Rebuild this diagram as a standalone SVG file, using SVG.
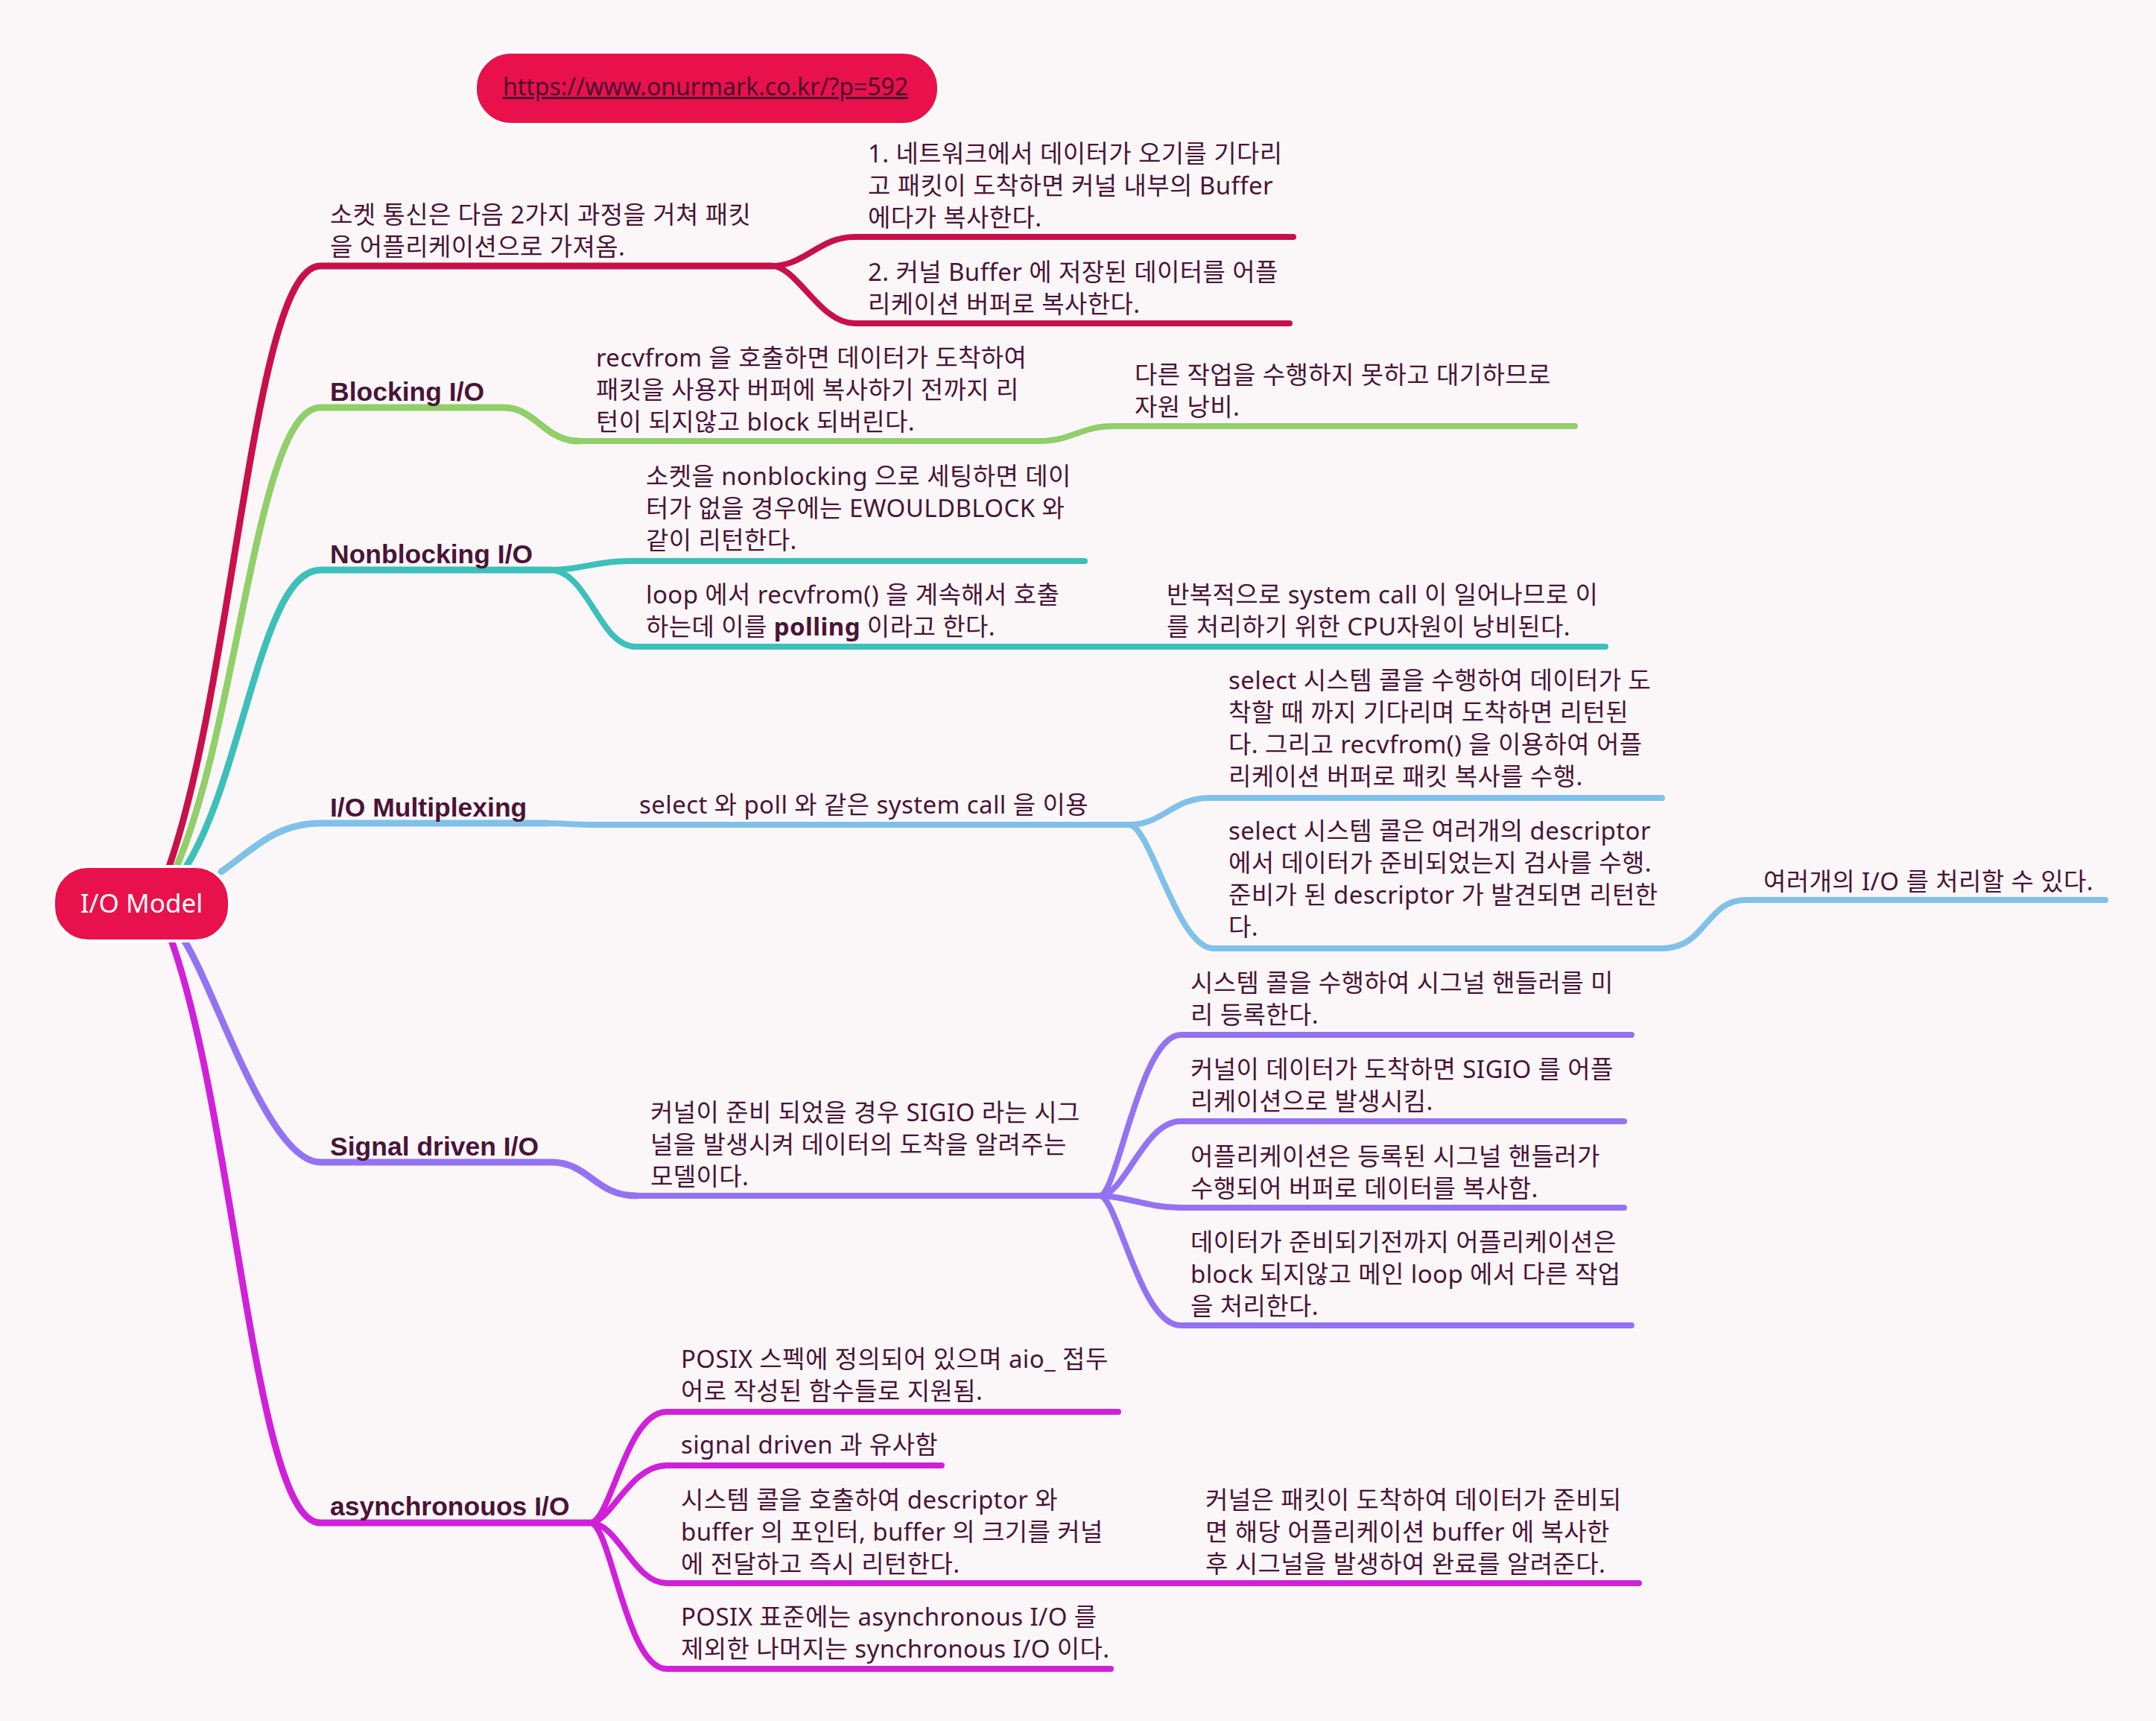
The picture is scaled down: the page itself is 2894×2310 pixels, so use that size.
<svg xmlns="http://www.w3.org/2000/svg" width="2894" height="2310" viewBox="0 0 2894 2310">
<defs>
<style>
.bg{fill:#fbf7f9}
.c{fill:none;stroke-linecap:round;stroke-linejoin:round}
.w1{stroke-width:9}
.w2{stroke-width:8}
.red{stroke:#c8104b}
.grn{stroke:#90cf69}
.teal{stroke:#3dbfba}
.blue{stroke:#80c1e9}
.pur{stroke:#9373f2}
.mag{stroke:#d020d9}
.t{font-family:"Noto Sans","Noto Sans CJK KR",sans-serif;font-size:33px;letter-spacing:0.4px;fill:#4a1436}
.b{font-family:"Liberation Sans",Arial,sans-serif;font-size:35.5px;font-weight:700;fill:#4a1436}
.pill{fill:#e8114b;stroke:#ffffff;stroke-width:4}
</style>
</defs>
<rect class="bg" x="0" y="0" width="2894" height="2310"/>

<g id="connectors">
  <!-- red -->
  <path class="c w1 red" d="M 227 1163 C 315 911, 340 357, 430 357 L 1036 357"/>
  <path class="c w2 red" d="M 1036 357 C 1080 357, 1100 318, 1147 318 L 1736 318"/>
  <path class="c w2 red" d="M 1036 357 C 1070 357, 1100 434, 1147 434 L 1731 434"/>
  <!-- green -->
  <path class="c w1 grn" d="M 237 1163 C 320 972, 345 547, 430 547 L 675 547 C 720 547, 730 592, 777 592"/>
  <path class="c w2 grn" d="M 777 592 L 1394 592"/>
  <path class="c w2 grn" d="M 1394 592 C 1440 592, 1450 572, 1494 572 L 2114 572"/>
  <!-- teal -->
  <path class="c w1 teal" d="M 250 1163 C 327 1040, 351 765, 430 765 L 740 765"/>
  <path class="c w2 teal" d="M 740 765 C 780 765, 800 753, 843 753 L 1456 753"/>
  <path class="c w2 teal" d="M 740 765 C 790 768, 805 868, 853 868 L 1432 868"/>
  <path class="c w2 teal" d="M 1432 868 L 2155 868"/>
  <!-- blue -->
  <path class="c w1 blue" d="M 297 1170 C 340 1140, 370 1105, 430 1105 L 735 1105"/>
  <path class="c w2 blue" d="M 735 1105 C 760 1105, 770 1107, 800 1107 L 1516 1107"/>
  <path class="c w2 blue" d="M 1516 1107 C 1560 1107, 1575 1071, 1623 1071 L 2231 1071"/>
  <path class="c w2 blue" d="M 1516 1107 C 1545 1110, 1580 1273, 1629 1273 L 2231 1273"/>
  <path class="c w2 blue" d="M 2231 1273 C 2290 1273, 2290 1208, 2343 1208 L 2826 1208"/>
  <!-- purple -->
  <path class="c w1 pur" d="M 247 1262 C 290 1330, 360 1560, 430 1560 L 740 1560 C 790 1560, 800 1605, 853 1605"/>
  <path class="c w2 pur" d="M 853 1605 L 1476 1605"/>
  <path class="c w2 pur" d="M 1476 1605 C 1500 1605, 1530 1389, 1585 1389 L 2190 1389"/>
  <path class="c w2 pur" d="M 1476 1605 C 1510 1605, 1535 1505, 1585 1505 L 2180 1505"/>
  <path class="c w2 pur" d="M 1476 1605 C 1510 1605, 1540 1621, 1585 1621 L 2180 1621"/>
  <path class="c w2 pur" d="M 1476 1605 C 1500 1605, 1530 1779, 1585 1779 L 2190 1779"/>
  <!-- magenta -->
  <path class="c w1 mag" d="M 230 1262 C 316 1504, 342 2044, 430 2044 L 792 2044"/>
  <path class="c w2 mag" d="M 792 2044 C 820 2044, 840 1895, 895 1895 L 1501 1895"/>
  <path class="c w2 mag" d="M 792 2044 C 820 2044, 845 1967, 895 1967 L 1264 1967"/>
  <path class="c w2 mag" d="M 792 2044 C 830 2044, 850 2125, 895 2125 L 1486 2125"/>
  <path class="c w2 mag" d="M 1486 2125 L 2200 2125"/>
  <path class="c w2 mag" d="M 792 2044 C 820 2044, 840 2240, 895 2240 L 1491 2240"/>
</g>

<g id="root">
  <rect class="pill" x="72" y="1163" width="236" height="100" rx="46"/>
  <text x="190" y="1225" text-anchor="middle" font-family="'Noto Sans',sans-serif" font-size="35" fill="#ffffff">I/O Model</text>
</g>

<g id="url">
  <rect class="pill" x="638" y="70" width="622" height="97" rx="48"/>
  <text x="947" y="128" text-anchor="middle" font-family="'Noto Sans',sans-serif" font-size="32" fill="#4a0d2e" text-decoration="underline">https://www.onurmark.co.kr/?p=592</text>
</g>

<g id="n-socket">
  <text class="t"><tspan x="443" y="300">소켓 통신은 다음 2가지 과정을 거쳐 패킷</tspan><tspan x="443" y="343">을 어플리케이션으로 가져옴.</tspan></text>
</g>
<g id="n-socket-1">
  <text class="t"><tspan x="1165" y="218">1. 네트워크에서 데이터가 오기를 기다리</tspan><tspan x="1165" y="261">고 패킷이 도착하면 커널 내부의 Buffer</tspan><tspan x="1165" y="304">에다가 복사한다.</tspan></text>
</g>
<g id="n-socket-2">
  <text class="t"><tspan x="1165" y="377">2. 커널 Buffer 에 저장된 데이터를 어플</tspan><tspan x="1165" y="420">리케이션 버퍼로 복사한다.</tspan></text>
</g>

<g id="n-blocking">
  <text class="b" x="443" y="538">Blocking I/O</text>
</g>
<g id="n-blocking-1">
  <text class="t"><tspan x="800" y="492">recvfrom 을 호출하면 데이터가 도착하여</tspan><tspan x="800" y="535">패킷을 사용자 버퍼에 복사하기 전까지 리</tspan><tspan x="800" y="578">턴이 되지않고 block 되버린다.</tspan></text>
</g>
<g id="n-blocking-2">
  <text class="t"><tspan x="1523" y="515">다른 작업을 수행하지 못하고 대기하므로</tspan><tspan x="1523" y="558">자원 낭비.</tspan></text>
</g>

<g id="n-nonblocking">
  <text class="b" x="443" y="756">Nonblocking I/O</text>
</g>
<g id="n-nonblocking-1">
  <text class="t"><tspan x="867" y="651">소켓을 nonblocking 으로 세팅하면 데이</tspan><tspan x="867" y="694">터가 없을 경우에는 EWOULDBLOCK 와</tspan><tspan x="867" y="737">같이 리턴한다.</tspan></text>
</g>
<g id="n-nonblocking-2">
  <text class="t"><tspan x="867" y="810">loop 에서 recvfrom() 을 계속해서 호출</tspan><tspan x="867" y="853">하는데 이를 <tspan font-weight="700">polling</tspan> 이라고 한다.</tspan></text>
</g>
<g id="n-nonblocking-3">
  <text class="t"><tspan x="1566" y="810">반복적으로 system call 이 일어나므로 이</tspan><tspan x="1566" y="853">를 처리하기 위한 CPU자원이 낭비된다.</tspan></text>
</g>

<g id="n-multiplexing">
  <text class="b" x="443" y="1096">I/O Multiplexing</text>
</g>
<g id="n-multiplexing-1">
  <text class="t" x="858" y="1092">select 와 poll 와 같은 system call 을 이용</text>
</g>
<g id="n-multiplexing-2">
  <text class="t"><tspan x="1649" y="925">select 시스템 콜을 수행하여 데이터가 도</tspan><tspan x="1649" y="968">착할 때 까지 기다리며 도착하면 리턴된</tspan><tspan x="1649" y="1011">다. 그리고 recvfrom() 을 이용하여 어플</tspan><tspan x="1649" y="1054">리케이션 버퍼로 패킷 복사를 수행.</tspan></text>
</g>
<g id="n-multiplexing-3">
  <text class="t"><tspan x="1649" y="1127">select 시스템 콜은 여러개의 descriptor</tspan><tspan x="1649" y="1170">에서 데이터가 준비되었는지 검사를 수행.</tspan><tspan x="1649" y="1213">준비가 된 descriptor 가 발견되면 리턴한</tspan><tspan x="1649" y="1256">다.</tspan></text>
</g>
<g id="n-multiplexing-4">
  <text class="t" x="2367" y="1195">여러개의 I/O 를 처리할 수 있다.</text>
</g>

<g id="n-signal">
  <text class="b" x="443" y="1551">Signal driven I/O</text>
</g>
<g id="n-signal-1">
  <text class="t"><tspan x="873" y="1505">커널이 준비 되었을 경우 SIGIO 라는 시그</tspan><tspan x="873" y="1548">널을 발생시켜 데이터의 도착을 알려주는</tspan><tspan x="873" y="1591">모델이다.</tspan></text>
</g>
<g id="n-signal-2">
  <text class="t"><tspan x="1598" y="1331">시스템 콜을 수행하여 시그널 핸들러를 미</tspan><tspan x="1598" y="1374">리 등록한다.</tspan></text>
</g>
<g id="n-signal-3">
  <text class="t"><tspan x="1598" y="1447">커널이 데이터가 도착하면 SIGIO 를 어플</tspan><tspan x="1598" y="1490">리케이션으로 발생시킴.</tspan></text>
</g>
<g id="n-signal-4">
  <text class="t"><tspan x="1598" y="1564">어플리케이션은 등록된 시그널 핸들러가</tspan><tspan x="1598" y="1607">수행되어 버퍼로 데이터를 복사함.</tspan></text>
</g>
<g id="n-signal-5">
  <text class="t"><tspan x="1598" y="1679">데이터가 준비되기전까지 어플리케이션은</tspan><tspan x="1598" y="1722">block 되지않고 메인 loop 에서 다른 작업</tspan><tspan x="1598" y="1765">을 처리한다.</tspan></text>
</g>

<g id="n-async">
  <text class="b" x="443" y="2034">asynchronouos I/O</text>
</g>
<g id="n-async-1">
  <text class="t"><tspan x="914" y="1836">POSIX 스펙에 정의되어 있으며 aio_ 접두</tspan><tspan x="914" y="1879">어로 작성된 함수들로 지원됨.</tspan></text>
</g>
<g id="n-async-2">
  <text class="t" x="914" y="1951">signal driven 과 유사함</text>
</g>
<g id="n-async-3">
  <text class="t"><tspan x="914" y="2025">시스템 콜을 호출하여 descriptor 와</tspan><tspan x="914" y="2068">buffer 의 포인터, buffer 의 크기를 커널</tspan><tspan x="914" y="2111">에 전달하고 즉시 리턴한다.</tspan></text>
</g>
<g id="n-async-4">
  <text class="t"><tspan x="1618" y="2025">커널은 패킷이 도착하여 데이터가 준비되</tspan><tspan x="1618" y="2068">면 해당 어플리케이션 buffer 에 복사한</tspan><tspan x="1618" y="2111">후 시그널을 발생하여 완료를 알려준다.</tspan></text>
</g>
<g id="n-async-5">
  <text class="t"><tspan x="914" y="2182">POSIX 표준에는 asynchronous I/O 를</tspan><tspan x="914" y="2225">제외한 나머지는 synchronous I/O 이다.</tspan></text>
</g>
</svg>
